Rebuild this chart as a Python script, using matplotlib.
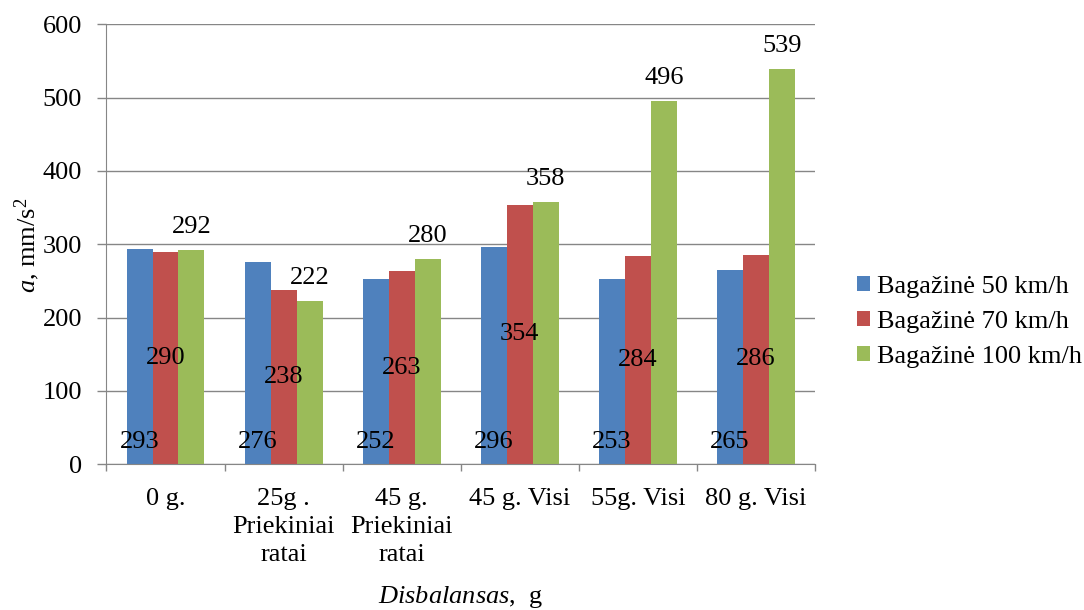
import numpy as np
import matplotlib
matplotlib.use('Agg')
import matplotlib.pyplot as plt

plt.rcParams['font.family'] = 'Liberation Serif'
plt.rcParams['mathtext.fontset'] = 'custom'
plt.rcParams['mathtext.rm'] = 'Liberation Serif'
plt.rcParams['mathtext.it'] = 'Liberation Serif:italic'

kategorijos = ['0 g.', '25g .\nPriekiniai\nratai', '45 g.\nPriekiniai\nratai',
               '45 g. Visi', '55g. Visi', '80 g. Visi']
v50 = [293, 276, 252, 296, 253, 265]
v70 = [290, 238, 263, 354, 284, 286]
v100 = [292, 222, 280, 358, 496, 539]
serijos = ['Bagažinė 50 km/h', 'Bagažinė 70 km/h', 'Bagažinė 100 km/h']
spalvos = ['#4F81BD', '#C0504D', '#9BBB59']

fig = plt.figure(figsize=(10.84, 6.10), dpi=100)
ax = fig.add_axes([0.0982, 0.2389, 0.6536, 0.7213])

x = np.arange(len(kategorijos))
w = 0.22
b1 = ax.bar(x - w, v50, w, color=spalvos[0], label=serijos[0], zorder=3)
b2 = ax.bar(x, v70, w, color=spalvos[1], label=serijos[1], zorder=3)
b3 = ax.bar(x + w, v100, w, color=spalvos[2], label=serijos[2], zorder=3)

fs = 19
# blue: inside base, red: centre, green: above the bar
for r, v in zip(b1, v50):
    ax.annotate(str(v), (r.get_x() + r.get_width() / 2, 0), xytext=(0, 22),
                textcoords='offset pixels', ha='center', va='center', fontsize=fs, zorder=4)
for r, v in zip(b2, v70):
    ax.text(r.get_x() + r.get_width() / 2, v / 2, str(v), ha='center', va='center',
            fontsize=fs, zorder=4)
for r, v in zip(b3, v100):
    ax.annotate(str(v), (r.get_x() + r.get_width() / 2, v), xytext=(0, 23),
                textcoords='offset pixels', ha='center', va='center', fontsize=fs, zorder=4)

ax.set_xlim(-0.5, len(kategorijos) - 0.5)
ax.set_ylim(0, 600)
ax.set_yticks(range(0, 601, 100))
ax.set_xticks(x)
ax.set_xticklabels(kategorijos, fontsize=fs, linespacing=1.36)
ax.set_xticks(np.arange(-0.5, len(kategorijos)), minor=True)
ax.tick_params(axis='x', which='major', length=0, pad=17)
ax.tick_params(axis='x', which='minor', length=5, color='#868686', width=1)
ax.tick_params(axis='y', labelsize=fs, length=6.5, color='#868686', width=1, pad=11)

ax.grid(axis='y', color='#868686', linewidth=1, zorder=0)
for s in ['top', 'right']:
    ax.spines[s].set_visible(False)
for s in ['left', 'bottom']:
    ax.spines[s].set_color('#868686')
    ax.spines[s].set_zorder(5)

ax.set_ylabel(r'$\mathit{a}$, mm/s$^2$', fontsize=fs, va='center')
ax.yaxis.set_label_coords(-0.112, 0.497)
ax.set_xlabel(r'$\mathit{Disbalansas}$,  g', fontsize=fs, va='center')
ax.xaxis.set_label_coords(0.5, -0.302)

ax.legend(loc='center left', bbox_to_anchor=(857 / 1084, 288 / 610),
          bbox_transform=fig.transFigure, frameon=False, fontsize=fs,
          handlelength=0.5, handleheight=0.5, handletextpad=0.25, labelspacing=0.5,
          borderpad=0, borderaxespad=0)

fig.savefig('out.png', dpi=100)
